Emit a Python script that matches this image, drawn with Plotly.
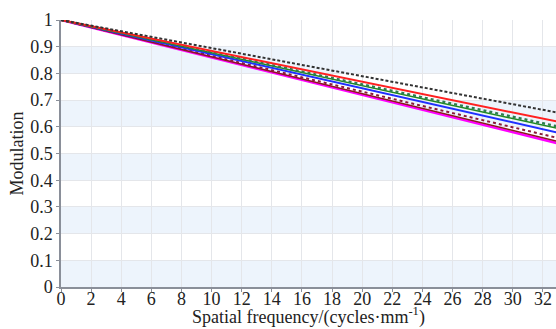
import plotly.graph_objects as go

x = [0, 4, 8, 12, 16, 20, 24, 28, 32, 33]
black_dash = [1.0, 0.958, 0.917, 0.875, 0.832, 0.790, 0.748, 0.706, 0.664, 0.653]
red = [1.0, 0.954, 0.908, 0.862, 0.815, 0.769, 0.723, 0.677, 0.630, 0.619]
green_dot = [1.0, 0.952, 0.903, 0.855, 0.807, 0.758, 0.710, 0.662, 0.613, 0.601]
green = [1.0, 0.951, 0.902, 0.852, 0.803, 0.754, 0.705, 0.656, 0.606, 0.594]
blue = [1.0, 0.949, 0.898, 0.847, 0.795, 0.744, 0.693, 0.642, 0.591, 0.578]
maroon_dot = [1.0, 0.946, 0.893, 0.839, 0.786, 0.732, 0.678, 0.625, 0.571, 0.558]
darkred = [1.0, 0.945, 0.890, 0.834, 0.779, 0.724, 0.669, 0.614, 0.558, 0.545]
magenta = [1.0, 0.944, 0.888, 0.832, 0.776, 0.720, 0.664, 0.608, 0.552, 0.538]

x_ticks = list(range(0, 33, 2))
y_ticks = [0, 0.1, 0.2, 0.3, 0.4, 0.5, 0.6, 0.7, 0.8, 0.9, 1]
y_tick_text = ["0", "0.1", "0.2", "0.3", "0.4", "0.5", "0.6", "0.7", "0.8", "0.9", "1"]
bands = [(0.0, 0.1), (0.2, 0.3), (0.4, 0.5), (0.6, 0.7), (0.8, 0.9)]

series = [
    (magenta, "#ff00ff", "solid", 2.5),
    (darkred, "#8b1a1a", "solid", 1.5),
    (maroon_dot, "#8b1a3a", "dot", 2),
    (blue, "#1f2fff", "solid", 2),
    (green, "#1f8a1f", "solid", 1.5),
    (green_dot, "#2e7d4f", "dot", 2.5),
    (red, "#ff2020", "solid", 2),
    (black_dash, "#333333", "3px,2px", 2),
]

fig = go.Figure()
for ys, col, dash, w in series:
    fig.add_trace(go.Scatter(x=x, y=ys, mode="lines",
                             line=dict(color=col, dash=dash, width=w),
                             showlegend=False, hoverinfo="skip"))

for y0, y1 in bands:
    fig.add_shape(type="rect", xref="paper", x0=0, x1=1, yref="y", y0=y0, y1=y1,
                  fillcolor="#edf4fc", line=dict(width=0), layer="below")

fam = "Liberation Serif, Times New Roman, serif"
tickfont = dict(family=fam, color="#222", size=18)
titlefont = dict(family=fam, color="#222", size=18)

fig.add_annotation(text="Spatial frequency/(cycles·mm<sup>-1</sup>)",
                   xref="paper", yref="paper", x=0.5, y=-0.108,
                   xanchor="center", yanchor="middle", showarrow=False,
                   borderpad=0, font=titlefont)

fig.update_layout(
    width=556, height=329,
    margin=dict(l=61, r=0, t=20, b=42),
    plot_bgcolor="white", paper_bgcolor="white",
    font=tickfont,
    xaxis=dict(range=[0, 32.87], tickmode="array", tickvals=x_ticks,
               showgrid=True, gridcolor="#e4e6ea", gridwidth=1,
               showline=True, linecolor="#8a8f99", linewidth=1.5,
               ticks="outside", ticklen=3, tickcolor="#8a8f99",
               ticklabelstandoff=-8,
               zeroline=False, tickfont=tickfont),
    yaxis=dict(range=[0, 1], tickmode="array", tickvals=y_ticks, ticktext=y_tick_text,
               showgrid=True, gridcolor="#e4e6ea", gridwidth=1,
               showline=True, linecolor="#8a8f99", linewidth=1.5,
               ticks="outside", ticklen=3, tickcolor="#8a8f99",
               zeroline=False, tickfont=tickfont,
               title=dict(text="Modulation", font=titlefont, standoff=2)),
)

fig.write_html("out.html")
